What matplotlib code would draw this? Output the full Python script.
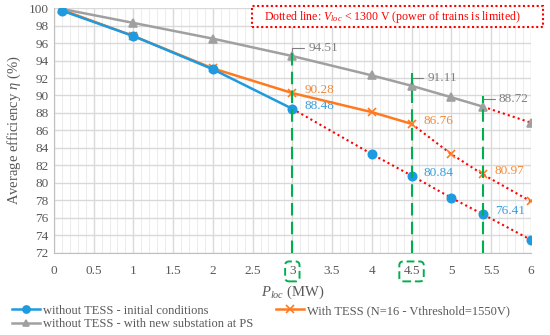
import matplotlib.pyplot as plt
import numpy as np
from matplotlib.patches import Rectangle

plt.rcParams.update(
    {
        "font.family": ["Liberation Serif", "DejaVu Serif"],
        "mathtext.fontset": "custom",
        "mathtext.rm": "Liberation Serif",
        "mathtext.it": "Liberation Serif:italic",
        "font.size": 9,
    }
)

# data
p_loc = [0.1, 1, 2, 3, 4, 4.5, 5, 5.4, 6]
eff_initial = [99.7, 96.8, 93.0, 88.48, 83.3, 80.84, 78.3, 76.41, 73.5]
eff_tess = [99.8, 96.8, 93.1, 90.28, 88.1, 86.76, 83.3, 80.97, 77.9]
eff_substation = [99.9, 98.3, 96.5, 94.51, 92.3, 91.11, 89.8, 88.72, 86.9]

# index of last point with full train power (solid line up to it)
limit_initial = 3
limit_tess = 5
limit_substation = 7

label_initial = "without TESS - initial conditions"
label_tess = "With TESS (N=16 - Vthreshold=1550V)"
label_substation = "without TESS - with new substation at PS"

marked_x = [3, 4.5, 5.4]
marked_top = [95.4, 92.6, 89.9]

BLUE = "#1E9BE0"
ORANGE = "#FF7A1F"
GRAY = "#A0A0A0"
RED = "#FF0000"
GREEN = "#00B050"
TEXT = "#595959"

fig = plt.figure(figsize=(5.5, 3.35), dpi=100)
ax = fig.add_axes([0.098, 0.245, 0.867, 0.731])

x = np.array(p_loc)
series = [
    (eff_substation, limit_substation, GRAY, "^", label_substation, 5.5),
    (eff_tess, limit_tess, ORANGE, "x", label_tess, 6),
    (eff_initial, limit_initial, BLUE, "o", label_initial, 6),
]
handles = {}
for y, lim, col, mk, lab, ms in series:
    y = np.array(y)
    ax.plot(x[lim:], y[lim:], color=RED, linestyle=(0, (1, 1.5)), linewidth=1.5, zorder=3)
    (h,) = ax.plot(
        x[: lim + 1], y[: lim + 1], color=col, linewidth=1.8, marker=mk,
        markersize=ms, markeredgewidth=1.2, label=lab, zorder=4,
    )
    ax.plot(x[lim + 1:], y[lim + 1:], linestyle="none", marker=mk, color=col,
            markersize=ms, markeredgewidth=1.2, zorder=4)
    handles[lab] = h

for xm, top in zip(marked_x, marked_top):
    ax.plot([xm, xm], [72, top], color=GREEN, linestyle=(0, (6, 3)), linewidth=1.5, zorder=5)

# data labels
labels = [
    (3, 94.51, GRAY, True), (3, 90.28, ORANGE, False), (3, 88.48, BLUE, False),
    (4.5, 91.11, GRAY, True), (4.5, 86.76, ORANGE, False), (4.5, 80.84, BLUE, False),
    (5.4, 88.72, GRAY, True), (5.4, 80.97, ORANGE, False), (5.4, 76.41, BLUE, False),
]
for xv, yv, col, leader in labels:
    lab_col = "#808080" if col == GRAY else ("#F28A3A" if col == ORANGE else "#3A9FDC")
    if leader:
        ax.annotate(
            f"{yv:.2f}", xy=(xv, yv), xytext=(xv + 0.2, yv + 0.9), color=lab_col,
            fontsize=9.5, va="center", ha="left",
            arrowprops=dict(arrowstyle="-", color="#808080", lw=0.8,
                            connectionstyle="angle,angleA=0,angleB=90,rad=0",
                            shrinkA=1, shrinkB=2),
        )
    else:
        ax.text(xv + 0.15, yv + 0.35, f"{yv:.2f}", color=lab_col, fontsize=9.5,
                va="center", ha="left")

# note box (dotted red frame)
ax.add_patch(Rectangle((0.415, 0.9225), 0.61, 0.0855, transform=ax.transAxes,
                       fc="white", ec=RED, ls=(0, (1, 1.2)), lw=1.5, clip_on=False, zorder=6))
ax.text(0.71, 0.965, r"Dotted line: $V_{loc}$ < 1300 V (power of trains is limited)",
        transform=ax.transAxes, color=RED, fontsize=8.6, ha="center", va="center", zorder=7)

ax.set_xlim(0, 6)
ax.set_ylim(72, 100)
ax.set_xticks(np.arange(0, 6.01, 0.5))
ax.set_xticklabels(["0", "0.5", "1", "1.5", "2", "2.5", "3", "3.5", "4", "4.5", "5", "5.5", "6"])
ax.set_xticks(np.arange(0, 6.01, 0.1), minor=True)
ax.set_yticks(np.arange(72, 100.1, 2))
ax.grid(True, which="major", color="#D9D9D9", linewidth=1.0)
ax.grid(True, which="minor", axis="x", color="#EDEDED", linewidth=0.8)
ax.set_axisbelow(True)
for s in ax.spines.values():
    s.set_visible(False)
ax.spines["bottom"].set_visible(True)
ax.spines["bottom"].set_color("#BFBFBF")
ax.spines["left"].set_visible(True)
ax.spines["left"].set_color("#BFBFBF")
ax.tick_params(which="both", length=0, colors=TEXT, labelsize=9.5)
ax.tick_params(axis="x", pad=9)
ax.tick_params(axis="y", pad=4)

for tl in ax.get_xticklabels():
    if tl.get_text() in ("3", "4.5"):
        tl.set_bbox(dict(boxstyle="round,pad=0.3", fc="none", ec=GREEN, ls=(0, (4, 2)), lw=1.4))

ax.set_ylabel(r"Average efficiency $\eta$ (%)", color=TEXT, fontsize=10.5, labelpad=4)
ax.set_xlabel(r"$P_{loc}$ (MW)", color=TEXT, fontsize=10.5)
ax.xaxis.set_label_coords(0.5, -0.125)

fig.legend(
    [handles[label_initial], handles[label_substation], handles[label_tess]],
    [label_initial, label_substation, label_tess],
    loc="upper left", bbox_to_anchor=(0.012, 0.105), ncol=2, frameon=False,
    fontsize=9, handlelength=2.3, handletextpad=0.2, columnspacing=1.8,
    labelspacing=0.1, labelcolor=TEXT, markerscale=0.85, borderaxespad=0,
)

fig.savefig("out.png", dpi=100)
